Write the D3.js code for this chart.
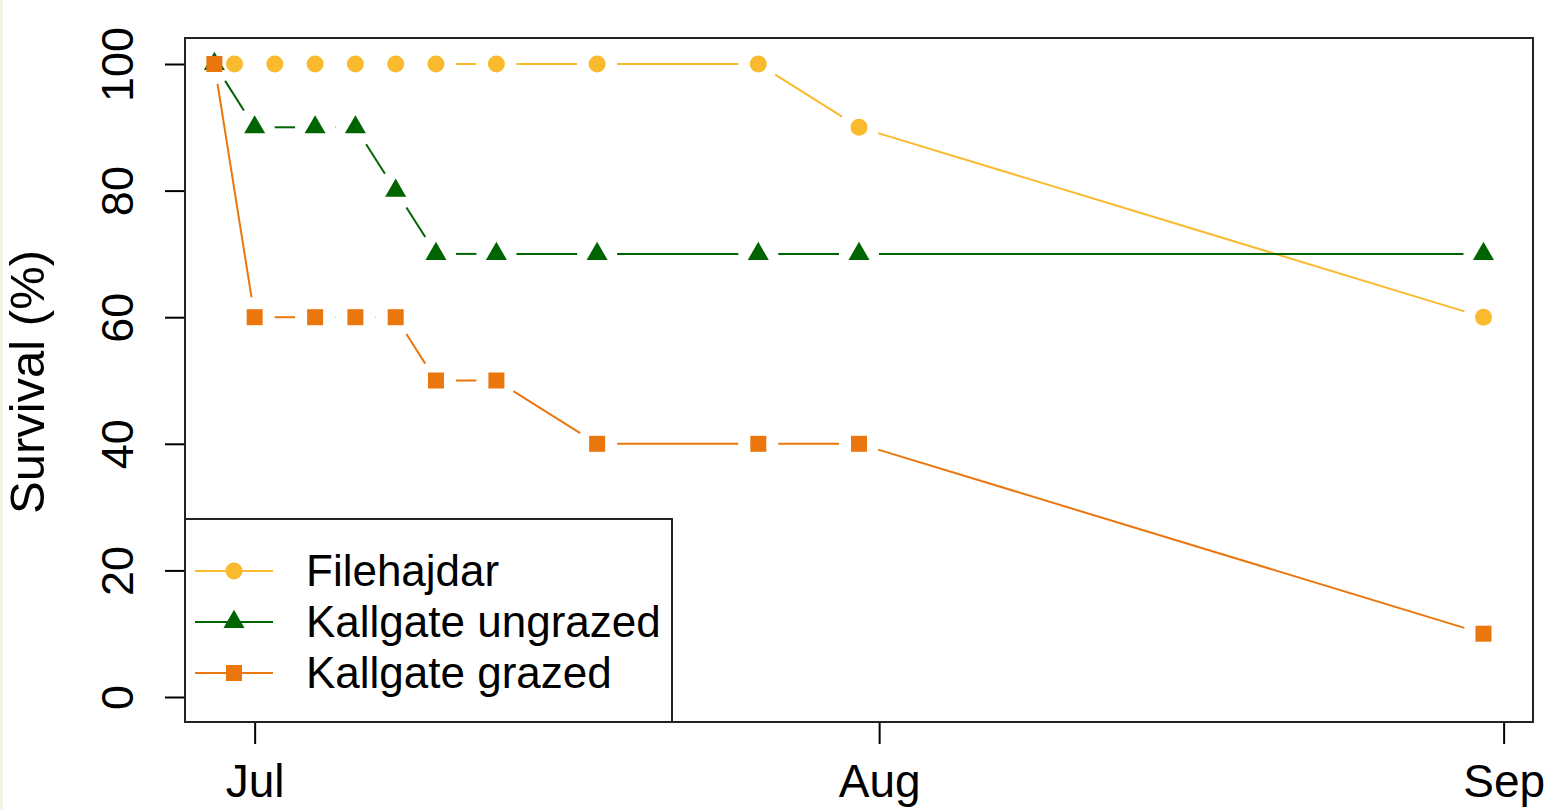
<!DOCTYPE html>
<html>
<head>
<meta charset="utf-8">
<script src="https://cdn.jsdelivr.net/npm/d3@7"></script>
<style>
  body { margin: 0; background: #fff; }
  text { font-family: "Liberation Sans", Arial, sans-serif; fill: #000; }
</style>
</head>
<body>
<script>
// Survival of plants at three sites, plotted R-style (type = "b")

// ---------- data ----------
var seriesNames = ["Filehajdar", "Kallgate ungrazed", "Kallgate grazed"];

var fileDates = ["2013-06-30", "2013-07-02", "2013-07-04", "2013-07-06", "2013-07-08",
                 "2013-07-10", "2013-07-13", "2013-07-18", "2013-07-26", "2013-07-31", "2013-08-31"];
var fileSurvival = [100, 100, 100, 100, 100, 100, 100, 100, 100, 90, 60];

var kallDates = ["2013-06-29", "2013-07-01", "2013-07-04", "2013-07-06", "2013-07-08",
                 "2013-07-10", "2013-07-13", "2013-07-18", "2013-07-26", "2013-07-31", "2013-08-31"];
var ungrazedSurvival = [100, 90, 90, 90, 80, 70, 70, 70, 70, 70, 70];
var grazedSurvival   = [100, 60, 60, 60, 60, 50, 50, 40, 40, 40, 10];

var yTicks = [0, 20, 40, 60, 80, 100];
var xTickDates = ["2013-07-01", "2013-08-01", "2013-09-01"];
var xTickLabels = ["Jul", "Aug", "Sep"];
var xLimits = ["2013-06-27T13:00", "2013-09-02T11:00"];

// ---------- layout ----------
var W = 1548, H = 809;
var plot = {left: 185, right: 1533, top: 38, bottom: 722};

var parseDay = d3.utcParse("%Y-%m-%d"),
    parseHour = d3.utcParse("%Y-%m-%dT%H:%M");

var colors = ["#F9BA2D", "#006400", "#EB760E"];
var shapes = [d3.symbolCircle, d3.symbolTriangle, d3.symbolSquare];
var shapeSize = [227, 191, 256];
var gap = 20; // R leaves a gap round each point with type = "b"

var xScale = d3.scaleUtc()
               .domain(xLimits.map(parseHour))
               .range([plot.left, plot.right]);
var yScale = d3.scaleLinear()
               .domain([0, 100])
               .range([697, 64]);

var dataset = [
  {name: seriesNames[0], dates: fileDates, values: fileSurvival},
  {name: seriesNames[1], dates: kallDates, values: ungrazedSurvival},
  {name: seriesNames[2], dates: kallDates, values: grazedSurvival}
].map((s, i) => ({
  name: s.name,
  color: colors[i],
  shape: shapes[i],
  size: shapeSize[i],
  points: s.dates.map((d, j) => ({date: parseDay(d), value: s.values[j]}))
}));

var svg = d3.select("body").append("svg")
            .attr("width", W)
            .attr("height", H);

svg.append("rect").attr("width", W).attr("height", H).attr("fill", "#fff");
svg.append("rect").attr("width", 3).attr("height", H).attr("fill", "#F2F3E4");

// ---------- axes ----------
var yAxis = d3.axisLeft(yScale).tickValues(yTicks).tickSize(20).tickFormat(d3.format("d"));
var yG = svg.append("g")
            .attr("transform", "translate(" + plot.left + ",0)")
            .call(yAxis);
yG.select(".domain").remove();
yG.selectAll("line").attr("stroke", "#000").attr("stroke-width", 2);
yG.selectAll("text")
  .attr("x", null).attr("dy", null)
  .attr("transform", "translate(-52,0) rotate(-90)")
  .attr("text-anchor", "middle")
  .style("font-size", "45px");

var xAxis = d3.axisBottom(xScale)
              .tickValues(xTickDates.map(parseDay))
              .tickSize(22)
              .tickFormat((d, i) => xTickLabels[i]);
var xG = svg.append("g")
            .attr("transform", "translate(0," + plot.bottom + ")")
            .call(xAxis);
xG.select(".domain").remove();
xG.selectAll("line").attr("stroke", "#000").attr("stroke-width", 2);
xG.selectAll("text")
  .attr("y", 75).attr("dy", null)
  .style("font-size", "46px");

svg.append("text")
   .attr("transform", "translate(44," + ((plot.top + plot.bottom) / 2 + 2) + ") rotate(-90)")
   .attr("text-anchor", "middle")
   .style("font-size", "49px")
   .text("Survival (%)");

// ---------- series ----------
var series = svg.selectAll(".series")
                .data(dataset)
                .enter()
                .append("g")
                .attr("class", "series");

// line segments, trimmed at both ends
series.each(function(s) {
  var segs = [];
  for (var j = 1; j < s.points.length; j++) {
    var x1 = xScale(s.points[j - 1].date), y1 = yScale(s.points[j - 1].value),
        x2 = xScale(s.points[j].date), y2 = yScale(s.points[j].value);
    var len = Math.hypot(x2 - x1, y2 - y1);
    if (len <= 2 * gap) continue;
    var ux = (x2 - x1) / len, uy = (y2 - y1) / len;
    segs.push([x1 + ux * gap, y1 + uy * gap, x2 - ux * gap, y2 - uy * gap]);
  }
  d3.select(this).selectAll("line")
    .data(segs)
    .enter()
    .append("line")
    .attr("x1", d => d[0]).attr("y1", d => d[1])
    .attr("x2", d => d[2]).attr("y2", d => d[3])
    .attr("stroke", s.color)
    .attr("stroke-width", 2);
});

series.selectAll(".pt")
      .data(s => s.points.map(p => ({p: p, s: s})))
      .enter()
      .append("path")
      .attr("class", "pt")
      .attr("transform", d => "translate(" + xScale(d.p.date) + "," + yScale(d.p.value) + ")")
      .attr("d", d => d3.symbol().type(d.s.shape).size(d.s.size)())
      .attr("fill", d => d.s.color);

// ---------- boxes ----------
svg.append("rect")
   .attr("x", plot.left).attr("y", plot.top)
   .attr("width", plot.right - plot.left)
   .attr("height", plot.bottom - plot.top)
   .attr("fill", "none")
   .attr("stroke", "#222")
   .attr("stroke-width", 2);

// legend
var legend = svg.append("g");
legend.append("rect")
      .attr("x", plot.left).attr("y", 519)
      .attr("width", 672 - plot.left).attr("height", plot.bottom - 519)
      .attr("fill", "#fff")
      .attr("stroke", "#222")
      .attr("stroke-width", 2);

var item = legend.selectAll(".item")
                 .data(dataset)
                 .enter()
                 .append("g")
                 .attr("class", "item")
                 .attr("transform", (d, i) => "translate(0," + (571 + i * 51) + ")");

item.append("line")
    .attr("x1", 195).attr("x2", 273)
    .attr("stroke", d => d.color)
    .attr("stroke-width", 2);
item.append("path")
    .attr("transform", "translate(234,0)")
    .attr("d", d => d3.symbol().type(d.shape).size(d.size)())
    .attr("fill", d => d.color);
item.append("text")
    .attr("x", 306)
    .attr("y", 15)
    .style("font-size", "44px")
    .text(d => d.name);
</script>
</body>
</html>
